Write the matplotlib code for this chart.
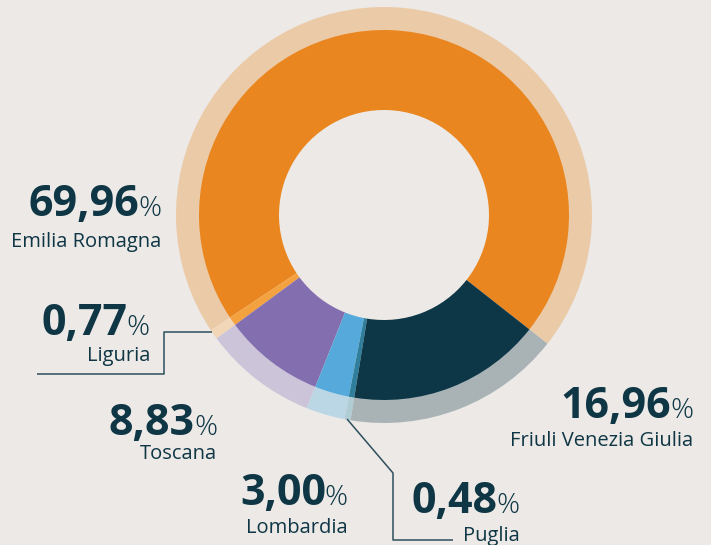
import matplotlib
matplotlib.use("Agg")
import matplotlib.pyplot as plt

# ---- data ----
regions = ["Emilia Romagna", "Liguria", "Toscana", "Lombardia", "Puglia", "Friuli Venezia Giulia"]
values = [69.96, 0.77, 8.83, 3.00, 0.48, 16.96]
value_labels = ["69,96", "0,77", "8,83", "3,00", "0,48", "16,96"]

# ---- styles ----
main_colors = ["#EA8620", "#F4A23F", "#836FB0", "#56AADB", "#2F7E9C", "#0D3747"]
ring_colors = ["#EBCAA8", "#F2D6B8", "#CCC4D9", "#BBD7E5", "#B0CCD5", "#A9B3B6"]
bg = "#EDE9E6"
txt = "#0E3645"
line_c = "#2D4F5C"

W, H = 711, 545
fig = plt.figure(figsize=(W / 100, H / 100), dpi=100, facecolor=bg)
ax = fig.add_axes([0, 0, 1, 1])
ax.set_facecolor(bg)

cx, cy = 384, H - 215
start = 321.8

ax.pie(values, colors=ring_colors, radius=208, center=(cx, cy), startangle=start,
       counterclock=True, wedgeprops=dict(width=24, linewidth=0), frame=True)
ax.pie(values, colors=main_colors, radius=185, center=(cx, cy), startangle=start,
       counterclock=True, wedgeprops=dict(width=80, linewidth=0), frame=True)
ax.set_xlim(0, W)
ax.set_ylim(0, H)
ax.set_aspect("equal")
ax.axis("off")

# label positions: right edge x, number baseline y, label baseline y (pixel, from top)
label_pos = {
    "Emilia Romagna": (161, 216, 247),
    "Liguria": (150, 335, 361),
    "Toscana": (217, 435, 459),
    "Lombardia": (348, 505, 533),
    "Puglia": (520, 513, 541),
    "Friuli Venezia Giulia": (693, 418, 446),
}

renderer = fig.canvas.get_renderer()
font = "Open Sans"
for name, vl in zip(regions, value_labels):
    xr, yn, yl = label_pos[name]
    pct = ax.text(xr, H - yn, "%", ha="right", va="baseline", fontsize=20.5,
                  family=font, fontweight="light", color=txt)
    bb = pct.get_window_extent(renderer=renderer)
    ax.text(bb.x0 + 1, H - yn, vl, ha="right", va="baseline", fontsize=31,
            family=font, fontweight="bold", color=txt)
    ax.text(xr, H - yl, name, ha="right", va="baseline", fontsize=14.5,
            family=font, color=txt)

# leader lines
ax.plot([212, 164, 164, 37], [H - 332, H - 332, H - 374, H - 374], color=line_c, lw=1.1,
        solid_capstyle="butt")
ax.plot([347, 393, 393, 453], [H - 419, H - 473, H - 540, H - 540], color=line_c, lw=1.1,
        solid_capstyle="butt")

fig.savefig("out.png", dpi=100, facecolor=bg)
